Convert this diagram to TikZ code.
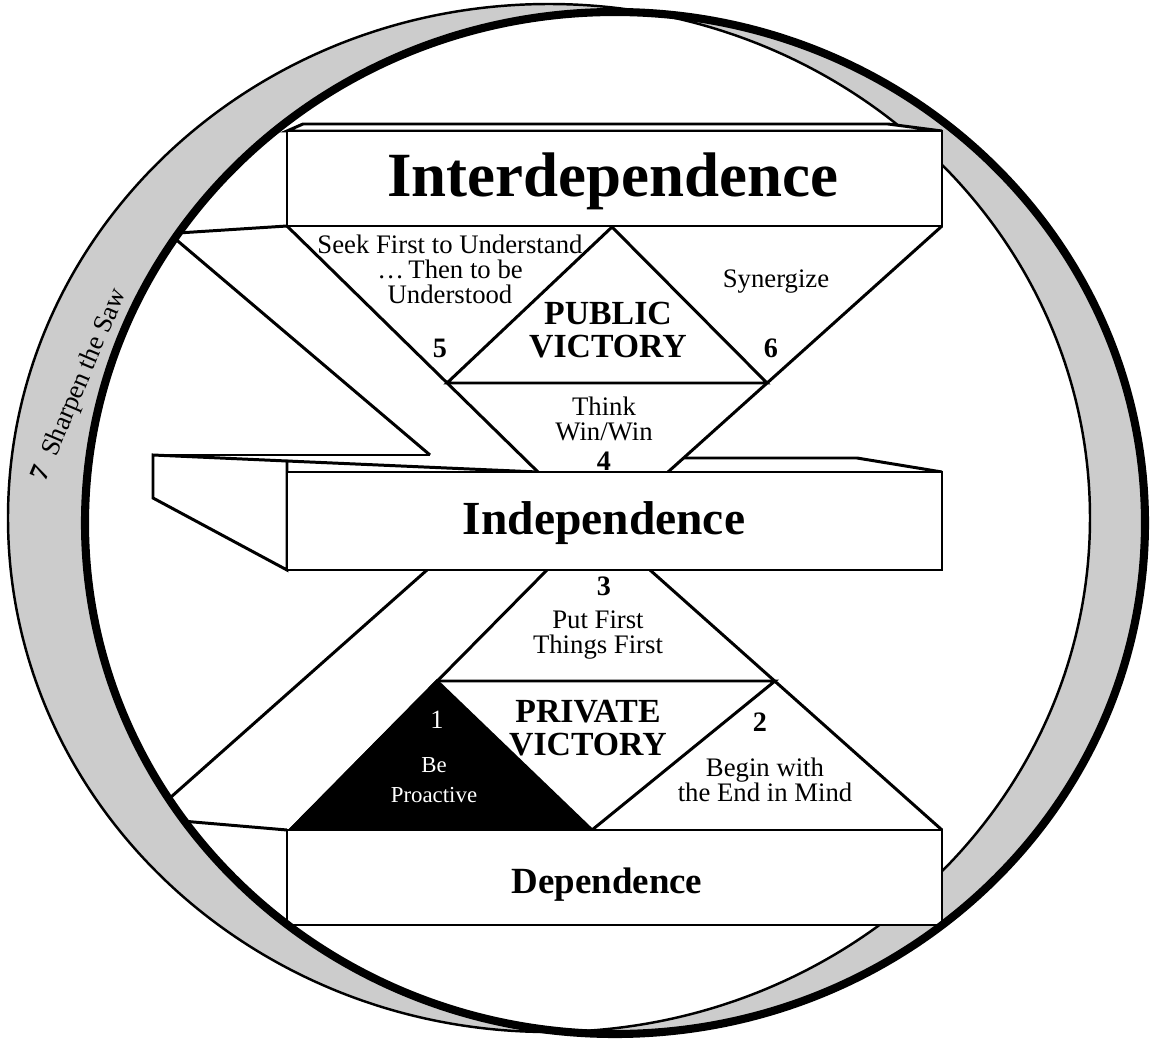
\documentclass[tikz,border=0pt]{standalone}
\usepackage{fontspec}
\setmainfont{Liberation Serif}
\usetikzlibrary{positioning}
\tikzset{rule/.style = {line width=0.85pt, line join=miter}}
\tikzset{panel/.style = {rule, fill=white}}
\tikzset{habit/.style = {inner sep=0, align=center, font=\fontsize{7.6}{7.1}\selectfont}}
\tikzset{num/.style = {inner sep=0, font=\fontsize{8}{8}\selectfont\bfseries}}
\tikzset{victory/.style = {inner sep=0, align=center, font=\fontsize{9.6}{9.6}\selectfont\bfseries}}
\definecolor{sawgray}{gray}{0.8}

\begin{document}
\begin{tikzpicture}[x=0.01cm, y=-0.01cm]
      \useasboundingbox (0,0) rectangle (1150,1045);
      \coordinate (ca) at (549,518);
      \coordinate (cb) at (615,523);

      \fill [sawgray, even odd rule] (ca) ellipse (541 and 514) (cb) ellipse (530 and 511);
      \draw [line width=0.7pt] (ca) ellipse (541 and 514);

      \coordinate (1) at (287,226);
      \coordinate (2) at (612,227);
      \coordinate (3) at (942,226);
      \coordinate (4) at (447,383);
      \coordinate (5) at (767,383);
      \coordinate (6) at (538,472);
      \coordinate (7) at (668,472);
      \coordinate (8) at (547,570);
      \coordinate (9) at (650,570);
      \coordinate (10) at (437,681);
      \coordinate (11) at (775,681);
      \coordinate (12) at (290,830);
      \coordinate (13) at (592,830);
      \coordinate (14) at (942,830);

      \begin{scope}
        \clip (cb) ellipse (530 and 511);
        \draw [rule] (1) -- (100,238);
        \draw [rule] (430,455) -- (100,175);
        \draw [rule] (427,570) -- (100,860);
        \draw [rule] (287,830) -- (100,814);
      \end{scope}

      \draw [rule] (1) -- (6);
      \draw [rule] (3) -- (7);
      \draw [rule] (2) -- (4) -- (5) -- cycle;
      \draw [rule] (8) -- (12);
      \draw [rule] (9) -- (14);
      \draw [rule] (10) -- (11) -- (13);
      \draw [rule, fill=black] (10) -- (12) -- (13) -- cycle;

      \draw [panel] (287,131) -- (303,124) -- (888,124) -- (942,131) -- cycle;
      \draw [panel] (287,131) rectangle (942,226);

      \draw [panel] (153,455) -- (287,461) -- (287,570) -- (153,498) -- cycle;
      \draw [rule] (287,461) -- (6);
      \draw [rule] (153,455) -- (430,455);
      \draw [rule] (684,458) -- (857,458) -- (942,472);
      \draw [panel] (287,472) rectangle (942,570);

      \draw [panel] (287,830) rectangle (942,925);

      \draw [line width=2.3pt] (cb) ellipse (530 and 511);

      \node [inner sep=0, font=\fontsize{17.9}{18}\selectfont\bfseries] (inter) at (613,181) {Interdependence};
      \node [inner sep=0, font=\fontsize{13.5}{14}\selectfont\bfseries] (indep) at (604,523) {Independence};
      \node [inner sep=0, font=\fontsize{10.5}{11}\selectfont\bfseries] (dep) at (607,885) {Dependence};

      \node [habit] (seek) at (450,269) {Seek First to Understand\\\ldots\,Then to be\\Understood};
      \node [num] (n5) at (440,348) {5};
      \node [victory] (public) at (608,330) {PUBLIC\\VICTORY};
      \node [habit] (synergy) at (776,282) {Synergize};
      \node [num] (n6) at (771,348) {6};
      \node [habit] (think) at (604,419) {Think\\Win/Win};
      \node [num] (n4) at (604,461) {4};

      \node [num] (n3) at (604,586) {3};
      \node [habit] (first) at (598,635) {Put First\\Things First};
      \node [victory] (private) at (588,728) {PRIVATE\\VICTORY};
      \node [num, white, font=\fontsize{7.5}{8}\selectfont] (n1) at (437,720) {1};
      \node [habit, white, font=\fontsize{6.5}{8.5}\selectfont] (proactive) at (434,780) {Be\\Proactive};
      \node [num] (n2) at (760,722) {2};
      \node [habit] (mind) at (765,780) {Begin with\\the End in Mind};

      \node [habit, rotate=67] (saw) at (80,385) {\textbf{7}\ \ Sharpen the Saw};
\end{tikzpicture}
\end{document}
